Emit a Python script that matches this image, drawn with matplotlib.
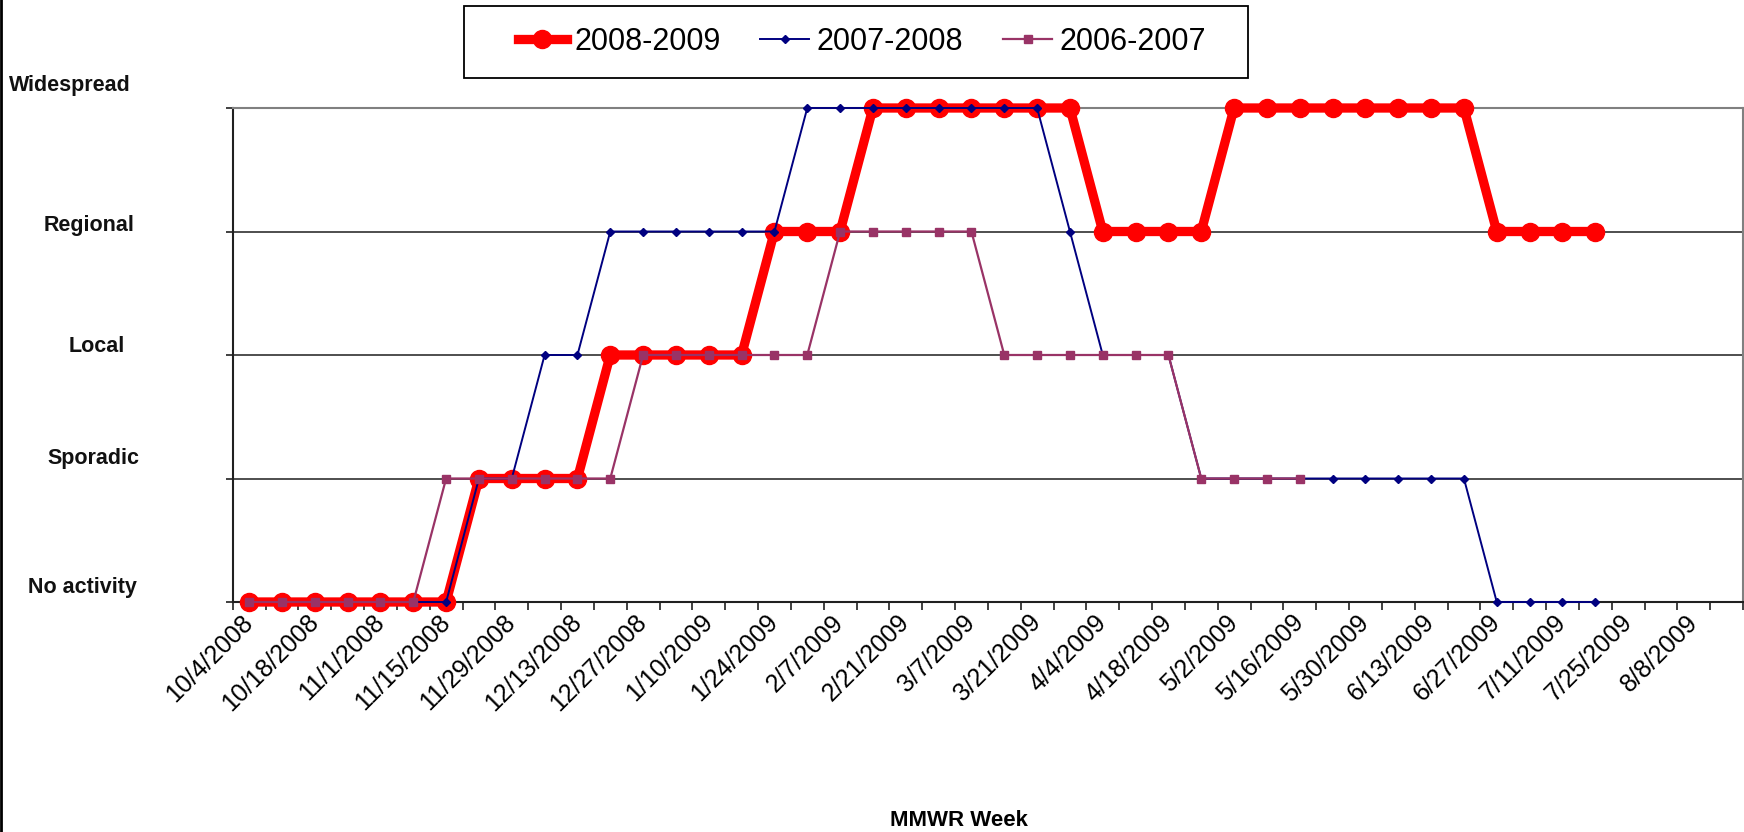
import matplotlib
matplotlib.use("Agg")
import matplotlib.pyplot as plt
from matplotlib.lines import Line2D
from matplotlib.patches import Rectangle

plt.rcParams['font.family'] = ['Liberation Sans', 'DejaVu Sans']

# ---------------- data ----------------
week_labels = ["10/4/2008", "10/18/2008", "11/1/2008", "11/15/2008", "11/29/2008",
               "12/13/2008", "12/27/2008", "1/10/2009", "1/24/2009", "2/7/2009",
               "2/21/2009", "3/7/2009", "3/21/2009", "4/4/2009", "4/18/2009",
               "5/2/2009", "5/16/2009", "5/30/2009", "6/13/2009", "6/27/2009",
               "7/11/2009", "7/25/2009", "8/8/2009"]
n_weeks = 46
level_names = ["No activity", "Sporadic", "Local", "Regional", "Widespread"]

s2008_2009 = [0, 0, 0, 0, 0, 0, 0, 1, 1, 1, 1, 2, 2, 2, 2, 2, 3, 3, 3,
              4, 4, 4, 4, 4, 4, 4, 3, 3, 3, 3, 4, 4, 4, 4, 4, 4, 4, 4,
              3, 3, 3, 3]
s2007_2008 = [0, 0, 0, 0, 0, 0, 0, 1, 1, 2, 2, 3, 3, 3, 3, 3, 3,
              4, 4, 4, 4, 4, 4, 4, 4, 3, 2, 2, 2, 1, 1, 1, 1, 1, 1, 1, 1, 1,
              0, 0, 0, 0]
s2006_2007 = [0, 0, 0, 0, 0, 0, 1, 1, 1, 1, 1, 1, 2, 2, 2, 2, 2, 2,
              3, 3, 3, 3, 3, 2, 2, 2, 2, 2, 2, 1, 1, 1, 1]

# ---------------- figure ----------------
W, H = 1744, 832
fig = plt.figure(figsize=(W / 100, H / 100), dpi=100)
L, R, T, B = 232.7, 1743, 108, 602
ax = fig.add_axes([L / W, 1 - B / H, (R - L) / W, (B - T) / H])

ax.set_xlim(-0.5, n_weeks - 0.5)
ax.set_ylim(0, 4)

grid_col = '#404040'
for lv in range(1, 4):
    ax.axhline(lv, color=grid_col, lw=1.3, zorder=1)

ax.plot(range(len(s2008_2009)), s2008_2009, color='#FF0000', lw=6.7,
        marker='o', ms=13, mfc='#FF0000', mec='#FF0000', zorder=3,
        clip_on=False, label='2008-2009')
ax.plot(range(len(s2007_2008)), s2007_2008, color='#000080', lw=1.4,
        marker='D', ms=4.2, mfc='#000080', mec='#000080', zorder=4,
        clip_on=False, label='2007-2008')
ax.plot(range(len(s2006_2007)), s2006_2007, color='#993366', lw=1.6,
        marker='s', ms=5.8, mfc='#993366', mec='#993366', zorder=5,
        clip_on=False, label='2006-2007')

for sp in ['left', 'bottom']:
    ax.spines[sp].set_color('#202020')
    ax.spines[sp].set_linewidth(1.5)
ax.spines['top'].set_color('#808080')
ax.spines['top'].set_linewidth(1.5)
ax.spines['right'].set_color('#808080')
ax.spines['right'].set_linewidth(1.5)

# y ticks (no labels; labels placed as free text)
ax.set_yticks(range(5))
ax.set_yticklabels([])
ax.tick_params(axis='y', direction='out', length=5, width=1.2, color='#202020')

# x ticks at category boundaries, labels at every other category centre
ax.set_xticks([i - 0.5 for i in range(n_weeks + 1)])
ax.set_xticklabels([])
ax.tick_params(axis='x', which='major', direction='out', length=6, width=1.2,
               color='#202020')
ax.set_xticks(list(range(0, 2 * len(week_labels), 2)), minor=True)
ax.set_xticklabels(week_labels, minor=True, rotation=45, ha='right',
                   va='center', rotation_mode='anchor', fontsize=18)
ax.tick_params(axis='x', which='minor', length=0, pad=12)

# level labels
lvl_pos = [(28, 587), (47, 458), (69, 347), (44, 226), (9, 85)]
for name, (px, py) in zip(level_names, lvl_pos):
    fig.text(px / W, 1 - py / H, name, ha='left', va='center',
             fontsize=15.5, fontweight='bold', color='#111111')

fig.text(959 / W, 1 - 820 / H, 'MMWR Week', ha='center', va='center',
         fontsize=16, fontweight='bold')

# legend (frame drawn separately for wider side padding)
leg = ax.legend(loc='center', bbox_to_anchor=(862 / W, 1 - 42 / H),
                bbox_transform=fig.transFigure, ncol=3, fontsize=22,
                frameon=False, handlelength=1.6, handletextpad=0.25,
                columnspacing=1.3, borderpad=0.3, borderaxespad=0)
fig.add_artist(Rectangle((464 / W, 1 - 78 / H), (1248 - 464) / W, (78 - 5.6) / H,
                         transform=fig.transFigure, fill=False,
                         edgecolor='black', lw=1.3))

fig.add_artist(Line2D([1.2 / W, 1.2 / W], [0, 1], color='black', lw=2,
                      transform=fig.transFigure))

fig.savefig('out.png', dpi=100)
